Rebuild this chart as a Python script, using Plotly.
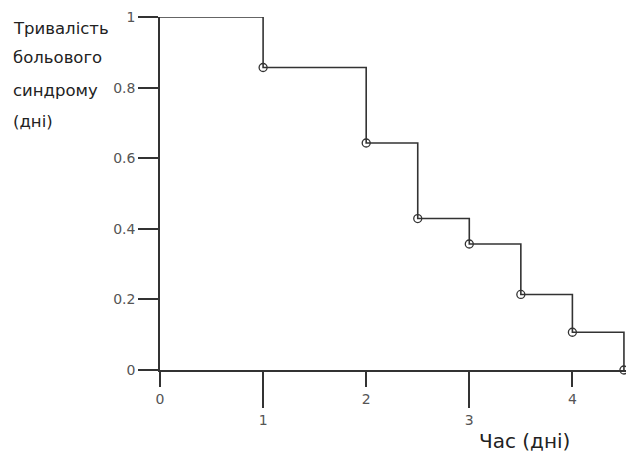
import plotly.graph_objects as go

# Data
times = [0, 1, 2, 2.5, 3, 3.5, 4, 4.5]
survival = [1.0, 0.857, 0.643, 0.429, 0.357, 0.214, 0.107, 0.0]
event_times = times[1:]
event_surv = survival[1:]

y_ticks = [0, 0.2, 0.4, 0.6, 0.8, 1]
y_tick_text = ["0", "0.2", "0.4", "0.6", "0.8", "1"]
x_ticks_short = [0, 2, 4]
x_ticks_long = [1, 3]
y_title_lines = ["Тривалість", "больового", "синдрому", "(дні)"]
x_title = "Час (дні)"

ink = "#333333"
FONT = "DejaVu Sans, Liberation Sans, Arial, sans-serif"
tickfont = dict(family=FONT, size=14, color="#555555")

L, R, T, B = 160, 0, 17, 83
W, H = 626, 453
PW, PH = W - L - R, H - T - B

fig = go.Figure()
fig.add_trace(go.Scatter(x=times, y=survival, mode="lines", line=dict(shape="hv", color=ink, width=1.6),
                         cliponaxis=False, showlegend=False, hoverinfo="skip"))
fig.add_trace(go.Scatter(x=event_times, y=event_surv, mode="markers",
                         marker=dict(symbol="circle-open", size=8, color=ink, line=dict(width=1.3, color=ink)),
                         cliponaxis=False, showlegend=False))
# invisible trace on xaxis2 so the second axis is drawn
fig.add_trace(go.Scatter(x=[0], y=[0], xaxis="x2", mode="markers", marker=dict(opacity=0),
                         showlegend=False, hoverinfo="skip"))

annotations = []
for line, ypx in zip(y_title_lines, [28, 58, 90, 121]):
    annotations.append(dict(text=line, xref="paper", yref="paper",
                            x=-(L - 11) / PW, y=1 - (ypx - T) / PH, xanchor="left", yanchor="middle",
                            align="left", showarrow=False,
                            font=dict(family=FONT, size=16.5, color="#222222")))
annotations.append(dict(text=x_title, xref="paper", yref="paper",
                        x=(524 - L) / PW, y=-(441 - (T + PH)) / PH, xanchor="center", yanchor="middle",
                        showarrow=False, font=dict(family=FONT, size=20, color="#222222")))

fig.update_layout(
    width=W, height=H,
    margin=dict(l=L, r=R, t=T, b=B, autoexpand=False),
    paper_bgcolor="white", plot_bgcolor="white",
    xaxis=dict(range=[0, 4.52], tickvals=x_ticks_short, ticktext=[str(v) for v in x_ticks_short],
               ticks="outside", ticklen=15, tickwidth=1.5, tickcolor=ink, automargin=False,
               showline=True, linecolor=ink, linewidth=1.5, showgrid=False, zeroline=False,
               tickfont=tickfont),
    xaxis2=dict(range=[0, 4.52], overlaying="x", anchor="y", side="bottom", automargin=False,
                tickvals=x_ticks_long, ticktext=[str(v) for v in x_ticks_long],
                ticks="outside", ticklen=37, tickwidth=1.5, tickcolor=ink,
                showline=False, showgrid=False, zeroline=False, tickfont=tickfont),
    yaxis=dict(range=[0, 1], tickvals=y_ticks, ticktext=y_tick_text, automargin=False,
               ticks="outside", ticklen=20, tickwidth=1.5, tickcolor=ink,
               showline=True, linecolor=ink, linewidth=1.5, showgrid=False, zeroline=False,
               tickfont=tickfont),
    annotations=annotations,
)

fig.write_html("out.html", config={"displayModeBar": False},
               post_script="document.body.style.margin='0';document.body.style.overflow='hidden';")
